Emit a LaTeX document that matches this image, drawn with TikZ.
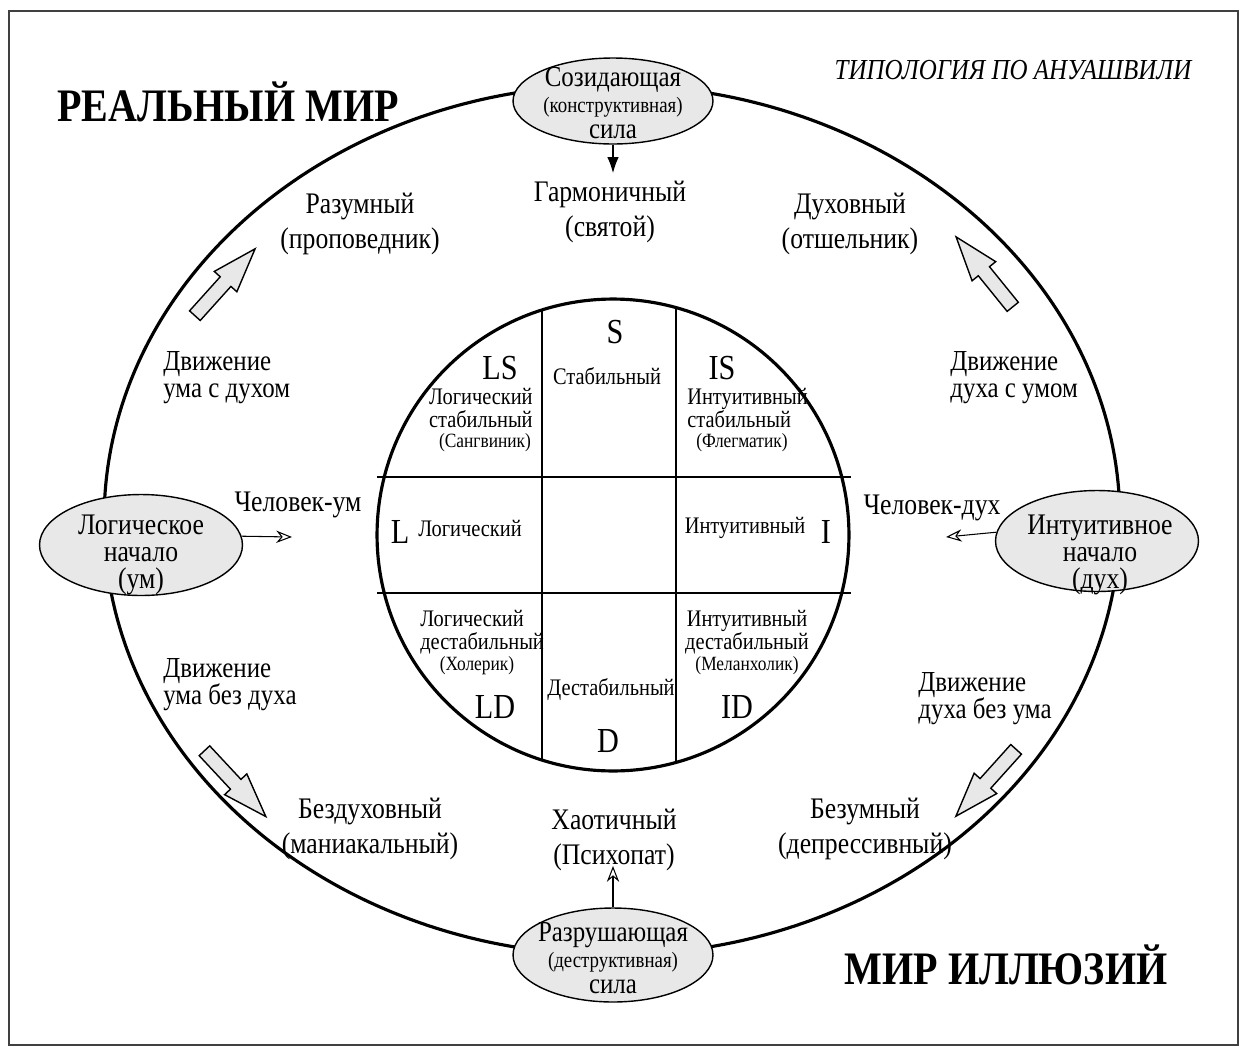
\documentclass[tikz,border=0pt]{standalone}
\usepackage{fontspec}
\setmainfont{Liberation Serif}[FakeStretch=0.86]
\usetikzlibrary{shapes.geometric,shapes.arrows,arrows.meta}
\tikzset{
  force/.style={ellipse, draw=black, line width=0.8pt, fill=gray!18, inner sep=0pt,
    minimum width=4cm, minimum height=1.72cm},
  origin/.style={ellipse, draw=black, line width=0.8pt, fill=gray!18, inner sep=0pt,
    minimum width=4.06cm, minimum height=2.02cm},
  lbl/.style={font=\fontsize{17}{19.5}\selectfont, align=center, inner sep=0pt},
  move/.style={font=\fontsize{16.5}{15.5}\selectfont, align=left, inner sep=0pt},
  cell/.style={font=\fontsize{13.5}{13}\selectfont, inner sep=0pt},
  note/.style={font=\fontsize{11.5}{12}\selectfont, inner sep=0pt},
  letter/.style={font=\fontsize{20}{22}\selectfont, inner sep=0pt},
  world/.style={font=\bfseries\fontsize{26.5}{28}\selectfont, inner sep=0pt},
  blockarrow/.style={single arrow, draw=black, line width=0.8pt, fill=gray!18,
    inner xsep=0pt, inner ysep=0.13cm, minimum height=1.8cm,
    single arrow head extend=0.16cm, single arrow tip angle=38},
  openarrow/.style={-{Stealth[open, length=9pt, width=7pt]}, line width=0.6pt},
}
\begin{document}
\begin{tikzpicture}[x=0.02cm, y=-0.02cm]
\useasboundingbox (0,0) rectangle (1241,1052);
\draw[line width=1pt, black!75] (9,11) rectangle (1238,1045);

\draw[line width=1.8pt] (612,520) ellipse [x radius=10.16cm, y radius=8.7cm];

\begin{scope}
\clip (613,535) circle [radius=4.72cm];
\draw[line width=0.7pt] (542,290) -- (542,780);
\draw[line width=0.7pt] (676,290) -- (676,780);
\end{scope}
\draw[line width=0.7pt] (377,477) -- (851,477);
\draw[line width=0.7pt] (377,593) -- (851,593);
\draw[line width=1.8pt] (613,535) circle [radius=4.72cm];

\node[world] (real) at (228,102) {РЕАЛЬНЫЙ МИР};
\node[world] (illus) at (1006,965) {МИР ИЛЛЮЗИЙ};
\node[font=\itshape\fontsize{16.5}{18}\selectfont, inner sep=0pt] (title) at (1013,70) {ТИПОЛОГИЯ ПО АНУАШВИЛИ};

\node[force] (sozid) at (613,101) {};
\node[lbl, font=\fontsize{16.5}{15}\selectfont] (sozidtxt) at (613,103)
  {Созидающая\\{\fontsize{12.5}{15}\selectfont(конструктивная)}\\сила};
\node[force, minimum height=1.88cm] (razr) at (613,955) {};
\node[lbl, font=\fontsize{16.5}{15}\selectfont] (razrtxt) at (613,958)
  {Разрушающая\\{\fontsize{12.5}{15}\selectfont(деструктивная)}\\сила};
\node[origin] (logic) at (141,545) {};
\node[lbl, font=\fontsize{17}{15.5}\selectfont] (logictxt) at (141,555) {Логическое\\начало\\(ум)};
\node[origin] (intui) at (1097,541) {};
\node[lbl, font=\fontsize{17}{15.5}\selectfont] (intuitxt) at (1100,555) {Интуитивное\\начало\\(дух)};

\node[lbl] (garm) at (610,212) {Гармоничный\\(святой)};
\node[lbl] (razum) at (360,224) {Разумный\\(проповедник)};
\node[lbl] (duhov) at (850,224) {Духовный\\(отшельник)};
\node[lbl] (bezduh) at (370,829) {Бездуховный\\(маниакальный)};
\node[lbl] (chaos) at (614,840) {Хаотичный\\(Психопат)};
\node[lbl] (bezum) at (865,829) {Безумный\\(депрессивный)};

\node[move, anchor=west] (mvlu) at (163,378) {Движение\\ума с духом};
\node[move, anchor=west] (mvru) at (950,378) {Движение\\духа с умом};
\node[move, anchor=west] (mvld) at (163,685) {Движение\\ума без духа};
\node[move, anchor=west] (mvrd) at (918,699) {Движение\\духа без ума};

\node[lbl] (chum) at (298,505) {Человек-ум};
\node[lbl] (chduh) at (932,508) {Человек-дух};

\coordinate (garmtop) at (613,173);
\coordinate (chaostop) at (613,866);
\coordinate (umtip) at (292,537);
\coordinate (duhtip) at (946,537);
\draw[-{Latex[length=9pt, width=6.5pt]}, line width=0.6pt] (sozid.south) -- (garmtop);
\draw[openarrow] (razr.north) -- (chaostop);
\draw[openarrow] (logic.5) -- (umtip);
\draw[openarrow] (intui.175) -- (duhtip);

\node[blockarrow, rotate=48] (arlu) at (218,290) {};
\node[blockarrow, rotate=129] (arru) at (991,280) {};
\node[blockarrow, rotate=-47] (arld) at (228,776) {};
\node[blockarrow, rotate=-132] (arrd) at (993,775) {};

\node[letter] (s) at (615,332) {S};
\node[cell] (stab) at (607,376) {Стабильный};
\node[letter] (ls) at (500,368) {LS};
\node[cell, align=right, anchor=east] (lstxt) at (533,408) {Логический\\стабильный};
\node[note] (sang) at (485,443) {(Сангвиник)};
\node[letter] (is) at (722,368) {IS};
\node[cell, align=left, anchor=west] (istxt) at (687,408) {Интуитивный\\стабильный};
\node[note] (fleg) at (742,443) {(Флегматик)};
\node[letter] (l) at (400,532) {L};
\node[cell] (logc) at (470,528) {Логический};
\node[cell] (intc) at (745,528) {Интуитивный};
\node[letter] (i) at (826,532) {I};
\node[cell, align=left, anchor=west] (ldtxt) at (420,632) {Логический\\дестабильный};
\node[note] (chol) at (477,666) {(Холерик)};
\node[letter] (ld) at (495,707) {LD};
\node[cell] (destab) at (611,690) {Дестабильный};
\node[letter] (d) at (608,741) {D};
\node[cell, align=center] (idtxt) at (747,632) {Интуитивный\\дестабильный};
\node[note] (melan) at (747,666) {(Меланхолик)};
\node[letter] (id) at (737,707) {ID};
\end{tikzpicture}
\end{document}
